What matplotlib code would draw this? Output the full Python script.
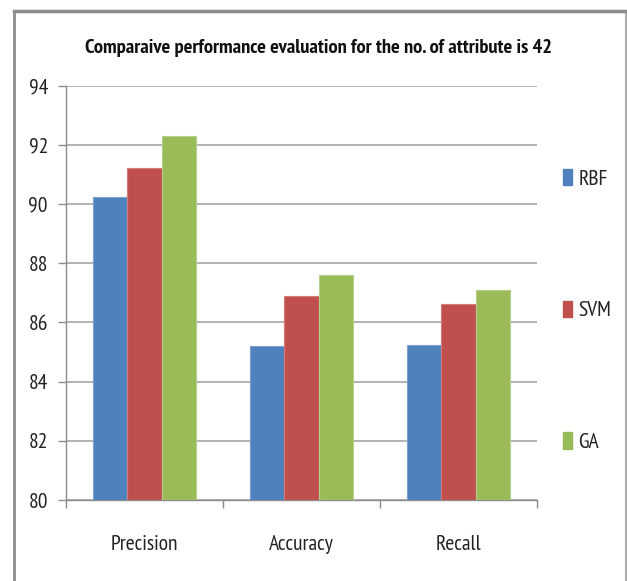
import matplotlib
matplotlib.use("Agg")
import matplotlib.pyplot as plt
from matplotlib.patches import Patch
from matplotlib import font_manager
import numpy as np

categories = ["Precision", "Accuracy", "Recall"]
series_names = ["RBF", "SVM", "GA"]
rbf = [90.23, 85.19, 85.24]
svm = [91.22, 86.90, 86.63]
ga = [92.31, 87.59, 87.10]
yticks = [80, 82, 84, 86, 88, 90, 92, 94]
title = "Comparaive performance evaluation for the no. of attribute is 42"

colors = ["#4F81BD", "#C0504D", "#9BBB59"]
edges = ["#7A9FD0", "#D47C7A", "#B5D08A"]

names = {f.name for f in font_manager.fontManager.ttflist}
candidates = ["Liberation Sans Narrow", "Arial Narrow", "PT Sans Narrow",
              "Roboto Condensed", "Archivo Narrow", "Fira Sans Condensed",
              "IBM Plex Sans Condensed", "Open Sans Condensed", "Asap Condensed",
              "Encode Sans Condensed", "Carlito"]
narrow = next((c for c in candidates if c in names), "DejaVu Sans")
plt.rcParams['font.family'] = [narrow, 'DejaVu Sans']

fig = plt.figure(figsize=(6.27, 5.81), dpi=100)
ax = fig.add_axes([66/627, 81/581, 471/627, 414.5/581])

x = np.arange(len(categories))
w = 0.22
for i, (vals, c, e) in enumerate(zip([rbf, svm, ga], colors, edges)):
    ax.bar(x + (i - 1) * w, [v - 80 for v in vals], width=w, bottom=80,
           color=c, edgecolor=e, linewidth=0.8, label=series_names[i], zorder=3)

ax.set_xlim(-0.5, len(categories) - 0.5)
ax.set_ylim(80, 94)
ax.set_yticks(yticks)
ax.set_yticklabels([str(t) for t in yticks], fontsize=15.5, color="#222222")
ax.yaxis.grid(True, color="#ADADAD", linewidth=1.3, zorder=0)
ax.set_axisbelow(True)

ax.set_xticks(np.arange(-0.5, len(categories), 1.0))
ax.set_xticklabels([])
ax.set_xticks(x, minor=True)
ax.set_xticklabels(categories, minor=True, fontsize=15.5, color="#222222")
ax.tick_params(axis='x', which='major', length=6, color="#8C8C8C", width=1)
ax.tick_params(axis='x', which='minor', length=0, pad=25)
ax.tick_params(axis='y', length=6, color="#8C8C8C", width=1, pad=7)

for s in ["top", "right"]:
    ax.spines[s].set_visible(False)
for s in ["left", "bottom"]:
    ax.spines[s].set_color("#8C8C8C")
    ax.spines[s].set_linewidth(1)

handles = [Patch(facecolor=c, edgecolor=c) for c in colors]
leg = fig.legend(handles, series_names, loc="upper left",
                 bbox_to_anchor=(563/627, 1 - 169/581), frameon=False,
                 fontsize=15.5, handlelength=0.42, handleheight=0.8,
                 handletextpad=0.3, labelspacing=5.2, borderpad=0,
                 borderaxespad=0)
for t in leg.get_texts():
    t.set_color("#222222")

t = fig.text(319/627, 1 - 48/581, title, ha="center", va="center",
             fontsize=15, fontweight="bold", color="#111111")
fig.canvas.draw()
bw = t.get_window_extent().width
t.set_fontsize(15 * 468 / bw)

frame_color = "#8C8C8C"
fig.add_artist(plt.Line2D([14/627, 14/627], [0, 1 - 11/581], transform=fig.transFigure, color=frame_color, lw=2))
fig.add_artist(plt.Line2D([626/627, 626/627], [0, 1 - 11/581], transform=fig.transFigure, color="#AAAAAA", lw=1.5))
fig.add_artist(plt.Line2D([14/627, 626/627], [1 - 11/581, 1 - 11/581], transform=fig.transFigure, color=frame_color, lw=2.5))

fig.savefig("out.png", dpi=100)
